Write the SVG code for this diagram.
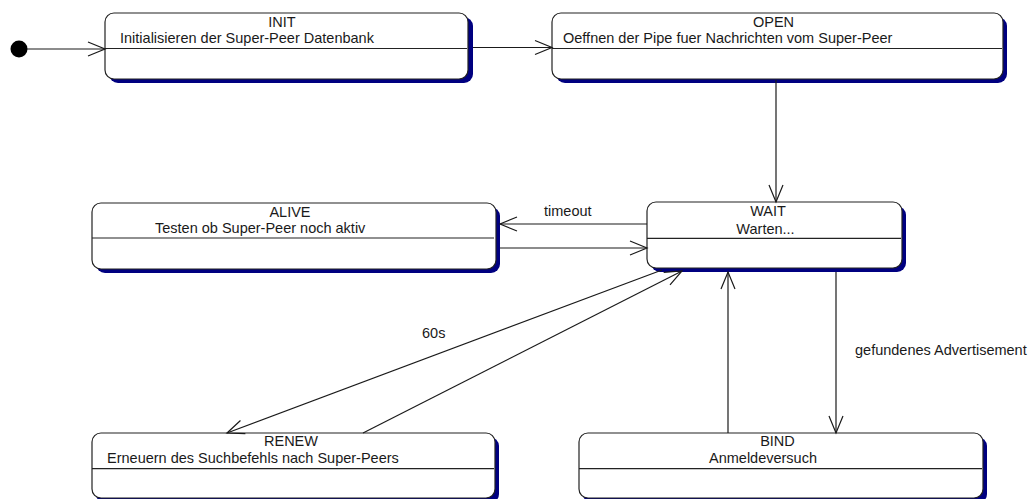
<svg xmlns="http://www.w3.org/2000/svg" width="1029" height="499" viewBox="0 0 1029 499">
  <style>
    .shadow { fill: #000080; }
    .box { fill: #ffffff; stroke: #222222; stroke-width: 1.2; }
    .divider { stroke: #222222; stroke-width: 1.2; }
    .title, .body, .label { font-family: "Liberation Sans", Arial, sans-serif; font-size: 14.5px; fill: #1a1a1a; }
    .title { text-anchor: middle; }
    .conn { stroke: #1a1a1a; stroke-width: 1.2; fill: none; marker-end: url(#arrow); }
  </style>
  <defs>
    <marker id="arrow" markerUnits="userSpaceOnUse" markerWidth="20" markerHeight="16" refX="18" refY="8" orient="auto" overflow="visible">
      <path d="M1,1 L18,8 L1,15" fill="none" stroke="#1a1a1a" stroke-width="1.2"/>
    </marker>
  </defs>

  <rect width="1029" height="499" fill="#ffffff"/>

  <!-- initial state -->
  <g id="start">
    <circle cx="19" cy="49" r="8.5" fill="#000000"/>
  </g>

  <g id="INIT">
    <rect class="shadow" x="109" y="17" width="364" height="66" rx="9"/>
    <rect class="box" x="105" y="13" width="363" height="66" rx="9"/>
    <line class="divider" x1="105" y1="48.5" x2="467" y2="48.5"/>
    <text class="title" x="282" y="27">INIT</text>
    <text class="body" x="120" y="43">Initialisieren der Super-Peer Datenbank</text>
  </g>

  <g id="OPEN">
    <rect class="shadow" x="556" y="17" width="451" height="66" rx="9"/>
    <rect class="box" x="552" y="13" width="451" height="66" rx="9"/>
    <line class="divider" x1="552" y1="48.5" x2="1002" y2="48.5"/>
    <text class="title" x="773.5" y="27">OPEN</text>
    <text class="body" x="563" y="43">Oeffnen der Pipe fuer Nachrichten vom Super-Peer</text>
  </g>

  <g id="ALIVE">
    <rect class="shadow" x="96" y="207" width="404" height="66" rx="9"/>
    <rect class="box" x="92" y="203" width="404" height="66" rx="9"/>
    <line class="divider" x1="92" y1="238" x2="494" y2="238"/>
    <text class="title" x="290" y="217">ALIVE</text>
    <text class="body" x="155" y="233">Testen ob Super-Peer noch aktiv</text>
  </g>

  <g id="WAIT">
    <rect class="shadow" x="651" y="206" width="255" height="66" rx="9"/>
    <rect class="box" x="647" y="202" width="255" height="66" rx="9"/>
    <line class="divider" x1="647" y1="238.3" x2="901" y2="238.3"/>
    <text class="title" x="768" y="216">WAIT</text>
    <text class="title" x="765.5" y="234">Warten...</text>
  </g>

  <g id="RENEW">
    <rect class="shadow" x="96" y="437" width="403" height="66" rx="9"/>
    <rect class="box" x="92" y="433" width="403" height="65" rx="9"/>
    <line class="divider" x1="92" y1="468.7" x2="494" y2="468.7"/>
    <text class="title" x="291" y="446">RENEW</text>
    <text class="body" x="107" y="463">Erneuern des Suchbefehls nach Super-Peers</text>
  </g>

  <g id="BIND">
    <rect class="shadow" x="583" y="437" width="404" height="66" rx="9"/>
    <rect class="box" x="579" y="433" width="404" height="65" rx="9"/>
    <line class="divider" x1="579" y1="468.7" x2="982" y2="468.7"/>
    <text class="title" x="777.5" y="446">BIND</text>
    <text class="title" x="763" y="463">Anmeldeversuch</text>
  </g>

  <!-- transitions -->
  <g id="connectors">
    <line class="conn" x1="27" y1="49" x2="105" y2="49"/>
    <line class="conn" x1="473" y1="47.5" x2="552" y2="47.5"/>
    <line class="conn" x1="776" y1="80" x2="776" y2="202"/>
    <line class="conn" x1="647" y1="224" x2="500" y2="224"/>
    <line class="conn" x1="500" y1="248" x2="647" y2="248"/>
    <line class="conn" x1="662" y1="270" x2="227" y2="433"/>
    <line class="conn" x1="363" y1="433" x2="682" y2="271"/>
    <line class="conn" x1="728" y1="433" x2="728" y2="272"/>
    <line class="conn" x1="836" y1="272" x2="836" y2="433"/>
    <text class="label" x="544" y="216">timeout</text>
    <text class="label" x="422" y="338">60s</text>
    <text class="label" x="855" y="355">gefundenes Advertisement</text>
  </g>
</svg>
